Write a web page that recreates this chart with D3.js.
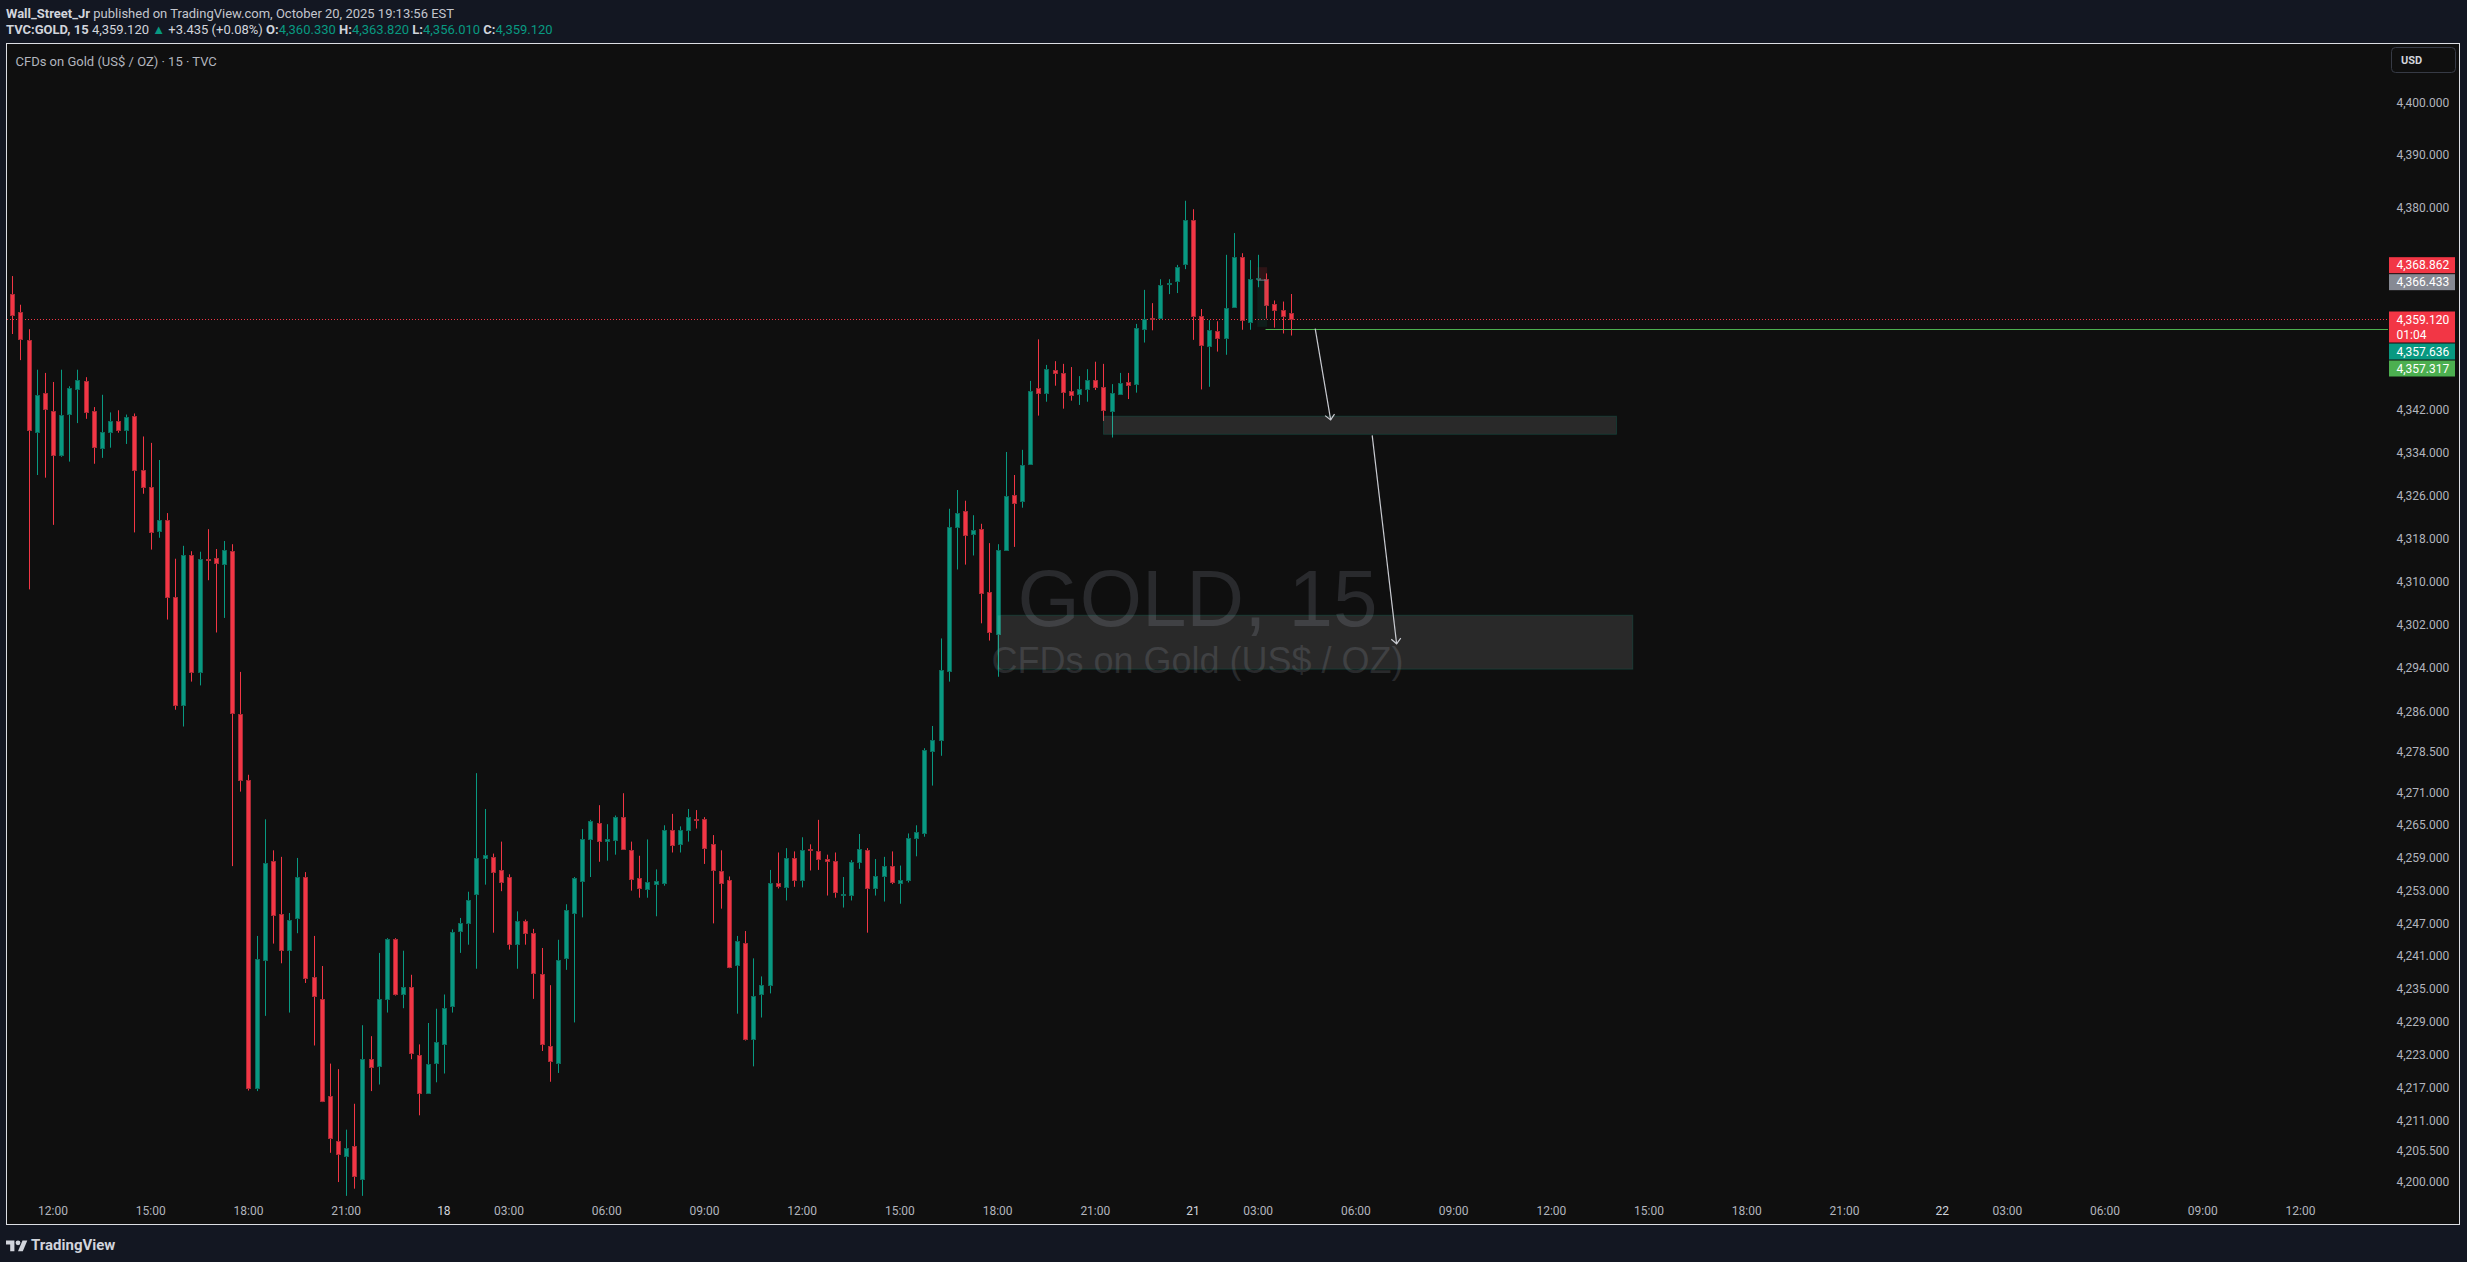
<!DOCTYPE html>
<html>
<head>
<meta charset="utf-8">
<title>GOLD 15</title>
<script src="https://cdn.jsdelivr.net/npm/d3@7"></script>
<style>
  html, body { margin: 0; padding: 0; background: #131722; overflow: hidden; }
  #chart { width: 2467px; height: 1262px; }
  text { font-family: Roboto, "Noto Sans", sans-serif; }
</style>
</head>
<body>
<div id="chart" data-lang="en"></div>
<script>

// 15 min bars, TVC:GOLD (one entry per bar, left to right)
var opens = [
  4363.8, 4360.4, 4355.1, 4337.9, 4345.2, 4341.8, 4333.8, 4341.2, 4345.9, 4347.4,
  4341.8, 4335.0, 4337.9, 4339.9, 4338.3, 4340.9, 4330.8, 4327.6, 4319.4, 4321.5,
  4307.1, 4287.1, 4315.0, 4293.2, 4314.2, 4314.4, 4313.3, 4315.7, 4285.6, 4273.3,
  4216.9, 4240.4, 4258.5, 4248.8, 4242.3, 4248.0, 4255.5, 4237.2, 4233.2, 4215.5,
  4207.4, 4204.6, 4206.4, 4200.5, 4222.3, 4221.0, 4233.2, 4244.1, 4234.0, 4235.3,
  4222.9, 4216.1, 4221.4, 4225.1, 4231.8, 4245.5, 4247.0, 4252.4, 4259.0, 4259.2,
  4256.8, 4255.5, 4243.3, 4247.5, 4245.2, 4237.8, 4224.6, 4221.5, 4240.7, 4248.8,
  4254.7, 4262.4, 4265.5, 4262.0, 4262.2, 4266.5, 4260.4, 4255.3, 4253.2, 4254.2,
  4254.5, 4264.2, 4261.5, 4264.1, 4266.1, 4266.1, 4261.5, 4256.6, 4254.9, 4239.3,
  4243.4, 4225.9, 4234.0, 4235.8, 4254.4, 4253.6, 4258.9, 4254.9, 4260.6, 4260.2,
  4258.8, 4258.4, 4252.1, 4252.1, 4258.2, 4260.4, 4253.4, 4255.6, 4257.5, 4254.4,
  4254.9, 4262.6, 4263.5, 4278.8, 4280.6, 4293.5, 4320.2, 4323.1, 4318.9, 4319.8,
  4308.1, 4300.3, 4315.9, 4326.2, 4325.0, 4332.1, 4346.1, 4345.2, 4349.5, 4349.0,
  4345.6, 4344.9, 4345.9, 4347.6, 4346.3, 4341.8, 4345.0, 4347.3, 4346.9, 4357.4,
  4359.4, 4359.2, 4365.7, 4366.3, 4369.4, 4377.7, 4359.6, 4354.0, 4356.8, 4355.5,
  4361.3, 4370.8, 4358.7, 4366.7, 4366.6, 4362.0, 4360.9, 4360.33
];
var highs = [
  4367.2, 4361.8, 4357.2, 4349.6, 4349.0, 4347.3, 4349.6, 4346.5, 4349.6, 4348.2,
  4342.6, 4344.9, 4341.6, 4342.0, 4341.2, 4341.4, 4337.1, 4335.9, 4332.7, 4322.8,
  4314.3, 4316.7, 4315.7, 4315.6, 4319.8, 4316.1, 4317.6, 4317.0, 4293.3, 4274.3,
  4244.7, 4266.1, 4260.4, 4259.2, 4248.9, 4259.0, 4256.4, 4244.7, 4239.2, 4221.4,
  4220.4, 4209.4, 4214.1, 4228.4, 4226.4, 4241.6, 4244.3, 4244.3, 4242.0, 4237.6,
  4224.9, 4228.8, 4231.4, 4234.0, 4245.9, 4248.0, 4252.8, 4274.6, 4268.0, 4259.8,
  4262.0, 4256.0, 4249.2, 4247.7, 4246.0, 4242.5, 4235.7, 4244.0, 4250.5, 4255.5,
  4264.3, 4266.0, 4268.7, 4265.2, 4266.8, 4270.9, 4262.0, 4259.4, 4262.4, 4256.9,
  4265.0, 4267.1, 4264.8, 4268.0, 4267.8, 4266.5, 4263.2, 4260.4, 4255.6, 4244.7,
  4245.6, 4240.6, 4237.3, 4256.8, 4260.0, 4260.8, 4260.2, 4262.8, 4261.5, 4266.0,
  4259.6, 4260.0, 4255.5, 4258.6, 4263.4, 4260.8, 4258.8, 4259.2, 4260.2, 4257.6,
  4263.5, 4265.0, 4279.2, 4283.3, 4299.5, 4323.6, 4327.1, 4325.1, 4322.4, 4320.8,
  4317.2, 4317.0, 4334.2, 4329.9, 4334.6, 4347.5, 4355.3, 4350.5, 4351.2, 4350.7,
  4350.1, 4348.4, 4349.7, 4351.1, 4350.7, 4346.9, 4349.0, 4349.0, 4358.2, 4364.6,
  4362.1, 4366.6, 4366.6, 4369.3, 4381.4, 4379.8, 4361.0, 4358.9, 4358.7, 4371.2,
  4375.3, 4371.5, 4370.2, 4371.2, 4367.7, 4362.6, 4362.4, 4363.82
];
var lows = [
  4356.3, 4351.4, 4308.6, 4329.9, 4329.4, 4320.6, 4333.3, 4332.4, 4339.6, 4340.4,
  4332.0, 4333.1, 4335.0, 4337.8, 4335.7, 4319.2, 4326.4, 4316.0, 4318.2, 4303.0,
  4286.3, 4283.2, 4291.5, 4290.8, 4310.3, 4300.6, 4303.3, 4257.5, 4271.2, 4216.5,
  4216.4, 4230.1, 4243.3, 4239.7, 4230.7, 4245.2, 4236.1, 4224.7, 4214.4, 4205.2,
  4199.9, 4197.4, 4198.7, 4197.4, 4216.4, 4217.6, 4230.7, 4233.8, 4231.5, 4222.2,
  4212.0, 4215.9, 4218.0, 4219.6, 4230.7, 4241.6, 4243.1, 4238.7, 4254.1, 4245.3,
  4252.9, 4242.2, 4238.7, 4243.1, 4233.2, 4223.7, 4218.1, 4219.7, 4238.5, 4228.9,
  4248.1, 4255.5, 4258.3, 4258.5, 4259.6, 4260.5, 4253.0, 4251.7, 4251.7, 4248.3,
  4253.9, 4260.0, 4260.0, 4262.0, 4264.4, 4257.9, 4247.0, 4249.7, 4238.8, 4230.5,
  4225.6, 4220.9, 4229.8, 4234.2, 4253.4, 4251.2, 4253.7, 4253.6, 4256.7, 4256.8,
  4252.1, 4251.7, 4249.9, 4251.2, 4257.0, 4245.3, 4252.1, 4251.0, 4254.2, 4250.6,
  4254.5, 4259.3, 4262.9, 4272.3, 4277.8, 4291.5, 4312.3, 4313.2, 4314.9, 4302.3,
  4299.1, 4292.4, 4315.8, 4316.5, 4323.8, 4331.9, 4341.0, 4343.6, 4346.6, 4342.3,
  4343.8, 4343.0, 4343.6, 4345.8, 4340.0, 4336.9, 4344.9, 4344.1, 4345.3, 4354.7,
  4357.0, 4359.1, 4363.8, 4364.0, 4368.5, 4355.2, 4345.9, 4346.4, 4353.0, 4352.4,
  4361.2, 4357.1, 4357.1, 4365.1, 4359.2, 4357.5, 4356.4, 4356.01
];
var closes = [
  4359.8, 4355.3, 4338.3, 4344.8, 4342.2, 4333.6, 4341.2, 4346.1, 4347.6, 4341.6,
  4335.0, 4337.9, 4339.9, 4338.3, 4340.7, 4330.8, 4327.6, 4319.2, 4321.5, 4307.1,
  4287.1, 4315.0, 4293.2, 4314.2, 4314.1, 4313.4, 4315.9, 4285.6, 4273.5, 4216.9,
  4240.4, 4258.1, 4248.6, 4242.3, 4247.7, 4255.5, 4237.0, 4233.7, 4214.6, 4207.8,
  4205.0, 4206.0, 4200.9, 4222.2, 4220.8, 4233.2, 4244.1, 4234.0, 4235.3, 4223.2,
  4215.9, 4221.4, 4225.3, 4231.6, 4245.4, 4247.0, 4251.2, 4259.0, 4259.5, 4256.5,
  4254.6, 4243.3, 4247.5, 4245.3, 4237.8, 4225.1, 4221.8, 4240.3, 4249.4, 4255.3,
  4262.4, 4265.7, 4262.2, 4262.4, 4266.5, 4260.6, 4255.1, 4253.4, 4254.5, 4254.7,
  4264.2, 4261.5, 4264.1, 4266.5, 4265.9, 4260.8, 4256.8, 4254.4, 4239.0, 4243.7,
  4225.9, 4233.7, 4235.7, 4254.4, 4253.8, 4258.9, 4254.9, 4260.4, 4260.5, 4258.8,
  4258.4, 4252.7, 4252.3, 4258.2, 4260.6, 4253.4, 4255.6, 4257.5, 4254.5, 4254.9,
  4262.6, 4263.7, 4278.8, 4280.8, 4293.6, 4320.2, 4322.9, 4318.7, 4319.6, 4307.9,
  4300.7, 4315.9, 4326.0, 4324.8, 4331.8, 4345.7, 4345.2, 4349.7, 4349.0, 4345.4,
  4344.9, 4345.9, 4347.6, 4346.3, 4342.0, 4345.2, 4347.1, 4346.7, 4357.4, 4359.2,
  4359.3, 4365.5, 4365.9, 4368.9, 4377.7, 4359.6, 4354.2, 4357.0, 4355.5, 4361.1,
  4370.8, 4358.9, 4366.7, 4366.9, 4361.7, 4360.9, 4359.8, 4359.12
];

// time scale labels, given as bar numbers
var timeTickBars   = [5, 17, 29, 41, 53, 61, 73, 85, 97, 109, 121, 133, 145, 153, 165, 177, 189, 201, 213, 225, 237, 245, 257, 269, 281];
var timeTickLabels = ['12:00', '15:00', '18:00', '21:00', '18', '03:00', '06:00', '09:00', '12:00', '15:00', '18:00', '21:00',
                      '21', '03:00', '06:00', '09:00', '12:00', '15:00', '18:00', '21:00', '22', '03:00', '06:00', '09:00', '12:00'];

var priceTicks = [4400, 4390, 4380, 4370, 4360, 4350, 4342, 4334, 4326, 4318, 4310, 4302, 4294, 4286, 4278.5,
                  4271, 4265, 4259, 4253, 4247, 4241, 4235, 4229, 4223, 4217, 4211, 4205.5, 4200];

// labels on the price scale
var markPrices = [4368.862, 4366.433, 4359.120, 4357.636, 4357.317];
var markKinds  = ['stop', 'entry', 'last', 'target', 'ray'];
var countdown  = '01:04';

// drawings
var zoneFromBar  = [134, 121];
var zoneToBar    = [197, 199];
var zoneTop      = [4340.9, 4303.8];
var zoneBottom   = [4337.5, 4293.8];

var arrowFromBar   = [160.0, 167.0];
var arrowFromPrice = [4357.3, 4337.3];
var arrowToBar     = [161.9, 170.0];
var arrowToPrice   = [4340.2, 4298.5];

var rayBar = 153.9;
var positionBars = [152.9, 154.1];

var CandleChart = function( _id ) {

  var that = this;

  that.id = _id;
  that.width = 2467;
  that.height = 1262;

  that.frame = {left: 6.5, top: 43.5, right: 2459.5, bottom: 1224.5};
  that.plot  = {left: 7, top: 44, right: 2388, bottom: 1198};

  that.upColor = '#089981';
  that.downColor = '#f23645';
  that.fmt = d3.format(',.3f');

  that.init = function() {

    that.bars = opens.map(function(o, i) {
      return {i: i, o: o, h: highs[i], l: lows[i], c: closes[i]};
    });

    that.x = d3.scaleLinear()
      .domain([0, 281])
      .range([12.3, 2300.5]);

    that.y = d3.scaleLog()
      .domain([4200, 4400])
      .range([1181.5, 102.5]);

    that.svg = d3.select('#'+that.id).append('svg')
      .attr('width', that.width)
      .attr('height', that.height);

    that.svg.append('rect')
      .attr('width', that.width)
      .attr('height', that.height)
      .attr('fill', '#131722');

    that.svg.append('rect')
      .attr('x', that.frame.left)
      .attr('y', that.frame.top)
      .attr('width', that.frame.right - that.frame.left)
      .attr('height', that.frame.bottom - that.frame.top)
      .attr('fill', '#0f0f0f')
      .attr('stroke', '#dcdee3')
      .attr('stroke-width', 1);

    that.svg.append('clipPath')
      .attr('id', 'plot-clip')
    .append('rect')
      .attr('x', that.plot.left)
      .attr('y', that.plot.top)
      .attr('width', that.plot.right - that.plot.left)
      .attr('height', that.plot.bottom - that.plot.top);

    that.drawHeader();

    that.g = that.svg.append('g').attr('clip-path', 'url(#plot-clip)');

    that.drawWatermark();
    that.drawLastLine();
    that.drawCandles();
    that.drawDrawings();
    that.drawTimeAxis();
    that.drawPriceAxis();
    that.drawFooter();

    return that;
  };

  that.drawHeader = function() {

    var t1 = that.svg.append('text')
      .attr('x', 6).attr('y', 13.5).attr('dy', '0.35em')
      .style('font-size', '13px').attr('fill', '#d1d4dc');
    t1.append('tspan').attr('font-weight', 'bold').text('Wall_Street_Jr');
    t1.append('tspan').attr('fill', '#c3c6ce').text(' published on TradingView.com, October 20, 2025 19:13:56 EST');

    var t2 = that.svg.append('text')
      .attr('x', 6).attr('y', 29.5).attr('dy', '0.35em')
      .style('font-size', '13px').attr('fill', '#d1d4dc');
    t2.append('tspan').attr('font-weight', 'bold').text('TVC:GOLD, 15');
    t2.append('tspan').text('  4,359.120');
    t2.append('tspan').attr('fill', that.upColor).text(' \u25B2');
    t2.append('tspan').text(' +3.435 (+0.08%)');
    [['O:', 4360.330], ['H:', 4363.820], ['L:', 4356.010], ['C:', 4359.120]].forEach(function(d) {
      t2.append('tspan').attr('font-weight', 'bold').text(' ' + d[0]);
      t2.append('tspan').attr('fill', that.upColor).text(that.fmt(d[1]));
    });

    that.svg.append('text')
      .attr('x', 15.5).attr('y', 61).attr('dy', '0.35em')
      .style('font-size', '13px').attr('fill', '#b2b5be')
      .text('CFDs on Gold (US$ / OZ) \u00B7 15 \u00B7 TVC');
  };

  that.drawWatermark = function() {

    var cx = (that.plot.left + that.plot.right) / 2;

    that.g.append('text')
      .attr('x', cx).attr('y', 626)
      .attr('text-anchor', 'middle')
      .style('font-family', '"Liberation Sans", Arial, sans-serif')
      .style('font-size', '80px')
      .attr('fill', 'rgba(120,123,134,0.25)')
      .text('GOLD, 15');

    that.g.append('text')
      .attr('x', cx).attr('y', 673)
      .attr('text-anchor', 'middle')
      .style('font-family', '"Liberation Sans", Arial, sans-serif')
      .style('font-size', '36px')
      .attr('fill', 'rgba(120,123,134,0.25)')
      .text('CFDs on Gold (US$ / OZ)');
  };

  that.drawLastLine = function() {

    var ly = Math.round(that.y(closes[closes.length-1])) + 0.5;

    that.g.append('line')
      .attr('class', 'last-line')
      .attr('x1', that.plot.left).attr('x2', that.plot.right)
      .attr('y1', ly).attr('y2', ly)
      .attr('stroke', that.downColor)
      .attr('stroke-width', 1)
      .attr('stroke-dasharray', '1,2');
  };

  that.drawCandles = function() {

    var colorOf = function(d) { return d.c >= d.o ? that.upColor : that.downColor; };
    var edgeOf  = function(d) { return d.c >= d.o ? '#0b6b5c' : '#a82a35'; };
    var cx = function(d) { return Math.round(that.x(d.i)); };

    that.g.selectAll('.wick')
      .data(that.bars)
    .enter().append('line')
      .attr('class', 'wick')
      .attr('x1', function(d) { return cx(d) + 0.5; })
      .attr('x2', function(d) { return cx(d) + 0.5; })
      .attr('y1', function(d) { return that.y(d.h); })
      .attr('y2', function(d) { return that.y(d.l); })
      .attr('stroke', colorOf)
      .attr('stroke-width', 1);

    that.g.selectAll('.body')
      .data(that.bars)
    .enter().append('rect')
      .attr('class', 'body')
      .attr('x', function(d) { return cx(d) - 1.5; })
      .attr('y', function(d) { return Math.round(that.y(Math.max(d.o, d.c))) + 0.5; })
      .attr('width', 4)
      .attr('height', function(d) {
        return Math.max(1, Math.round(that.y(Math.min(d.o, d.c)) - that.y(Math.max(d.o, d.c))));
      })
      .attr('fill', colorOf)
      .attr('stroke', edgeOf)
      .attr('stroke-width', 1);
  };

  that.drawDrawings = function() {

    // short position tool (tiny)
    var px0 = that.x(positionBars[0]), px1 = that.x(positionBars[1]);
    that.g.append('rect')
      .attr('x', px0).attr('width', px1 - px0)
      .attr('y', that.y(markPrices[0]))
      .attr('height', that.y(markPrices[1]) - that.y(markPrices[0]))
      .attr('fill', 'rgba(242,54,69,0.14)');
    that.g.append('rect')
      .attr('x', px0).attr('width', px1 - px0)
      .attr('y', that.y(markPrices[1]))
      .attr('height', that.y(markPrices[3]) - that.y(markPrices[1]))
      .attr('fill', 'rgba(8,153,129,0.1)');
    that.g.append('line')
      .attr('x1', px0).attr('x2', px1)
      .attr('y1', that.y(markPrices[1])).attr('y2', that.y(markPrices[1]))
      .attr('stroke', '#787b86');

    // zones
    that.g.selectAll('.zone')
      .data(zoneFromBar)
    .enter().append('rect')
      .attr('class', 'zone')
      .attr('x', function(d) { return that.x(d); })
      .attr('y', function(d, i) { return that.y(zoneTop[i]); })
      .attr('width', function(d, i) { return that.x(zoneToBar[i]) - that.x(d); })
      .attr('height', function(d, i) { return that.y(zoneBottom[i]) - that.y(zoneTop[i]); })
      .attr('fill', 'rgba(255,255,255,0.11)')
      .attr('stroke', 'rgba(8,153,129,0.22)')
      .attr('stroke-width', 1);

    // horizontal ray
    var ry = Math.round(that.y(markPrices[4])) + 0.5;
    that.g.append('line')
      .attr('x1', that.x(rayBar)).attr('x2', that.plot.right)
      .attr('y1', ry).attr('y2', ry)
      .attr('stroke', '#4caf50')
      .attr('stroke-width', 1);

    // arrows
    arrowFromBar.forEach(function(b, i) {
      var x1 = that.x(b), y1 = that.y(arrowFromPrice[i]);
      var x2 = that.x(arrowToBar[i]), y2 = that.y(arrowToPrice[i]);
      var a = Math.atan2(y2 - y1, x2 - x1);
      var len = 7, spread = 0.75;

      that.g.append('line')
        .attr('x1', x1).attr('y1', y1)
        .attr('x2', x2).attr('y2', y2)
        .attr('stroke', '#c9cbd1')
        .attr('stroke-width', 1.2);

      that.g.append('path')
        .attr('d', 'M' + (x2 - len*Math.cos(a - spread)) + ',' + (y2 - len*Math.sin(a - spread)) +
                   'L' + x2 + ',' + y2 +
                   'L' + (x2 - len*Math.cos(a + spread)) + ',' + (y2 - len*Math.sin(a + spread)))
        .attr('fill', 'none')
        .attr('stroke', '#c9cbd1')
        .attr('stroke-width', 1.2);
    });
  };

  that.drawTimeAxis = function() {

    that.svg.selectAll('.time-label')
      .data(timeTickBars)
    .enter().append('text')
      .attr('class', 'time-label')
      .attr('x', function(d) { return that.x(d); })
      .attr('y', 1210.5)
      .attr('dy', '0.35em')
      .attr('text-anchor', 'middle')
      .style('font-size', '12px')
      .attr('fill', function(d, i) { return timeTickLabels[i].length < 3 ? '#d1d4dc' : '#b2b5be'; })
      .text(function(d, i) { return timeTickLabels[i]; });
  };

  that.drawPriceAxis = function() {

    var axisX = 2396.5;

    // price labels, stacked so they do not overlap
    var colors = {stop: '#f23645', entry: '#868993', last: '#f23645', target: '#089981', ray: '#4caf50'};
    var marks = markPrices.map(function(p, i) {
      var h = markKinds[i] === 'last' ? 31 : 16;
      var top = markKinds[i] === 'last' ? that.y(p) - 7.5 : that.y(p) - h/2;
      return {p: p, kind: markKinds[i], h: h, top: top};
    });
    var lastIdx = markKinds.indexOf('last');
    // above the last price: split overlaps
    for (var k = 0; k < 10; k++) {
      for (var i = 0; i < lastIdx - 1; i++) {
        var ov = marks[i].top + marks[i].h + 1 - marks[i+1].top;
        if (ov > 0) { marks[i].top -= ov/2; marks[i+1].top += ov/2; }
      }
    }
    // below the last price: push down
    for (var j = lastIdx + 1; j < marks.length; j++) {
      var minTop = marks[j-1].top + marks[j-1].h + 1;
      if (marks[j].top < minTop) marks[j].top = minTop;
    }

    // scale labels hidden under a price label are skipped
    var visibleTicks = priceTicks.filter(function(p) {
      var ty = that.y(p);
      return !marks.some(function(m) { return ty + 7 > m.top && ty - 7 < m.top + m.h; });
    });

    that.svg.selectAll('.price-label')
      .data(visibleTicks)
    .enter().append('text')
      .attr('class', 'price-label')
      .attr('x', axisX)
      .attr('y', function(d) { return that.y(d); })
      .attr('dy', '0.35em')
      .style('font-size', '12px')
      .attr('fill', '#b2b5be')
      .text(function(d) { return that.fmt(d); });

    // USD button
    that.svg.append('rect')
      .attr('x', 2391.5).attr('y', 47.5)
      .attr('width', 64).attr('height', 25)
      .attr('rx', 4)
      .attr('fill', '#0f0f0f')
      .attr('stroke', '#363a45');
    that.svg.append('text')
      .attr('x', 2401).attr('y', 60).attr('dy', '0.35em')
      .style('font-size', '11px').attr('font-weight', 'bold')
      .attr('fill', '#d1d4dc')
      .text('USD');

    var boxes = that.svg.selectAll('.mark')
      .data(marks)
    .enter().append('g')
      .attr('class', 'mark')
      .attr('transform', function(d) { return 'translate(2389,' + d.top + ')'; });

    boxes.append('rect')
      .attr('width', 66)
      .attr('height', function(d) { return d.h; })
      .attr('fill', function(d) { return colors[d.kind]; });

    boxes.append('text')
      .attr('x', 7.5).attr('y', 8).attr('dy', '0.35em')
      .style('font-size', '12px')
      .attr('fill', '#ffffff')
      .text(function(d) { return that.fmt(d.p); });

    boxes.filter(function(d) { return d.kind === 'last'; })
      .append('text')
      .attr('x', 7.5).attr('y', 23).attr('dy', '0.35em')
      .style('font-size', '12px')
      .attr('fill', '#ffffff')
      .text(countdown);
  };

  that.drawFooter = function() {

    var logo = that.svg.append('g')
      .attr('transform', 'translate(6,1238) scale(0.6)')
      .attr('fill', '#d1d4dc');
    logo.append('path').attr('d', 'M14 22H7V11H0V4h14v18z');
    logo.append('circle').attr('cx', 20).attr('cy', 8).attr('r', 4);
    logo.append('path').attr('d', 'M28 22h-8l7.5-18h8L28 22z');

    that.svg.append('text')
      .attr('x', 31).attr('y', 1244.5).attr('dy', '0.35em')
      .style('font-size', '15px').attr('font-weight', 'bold')
      .attr('fill', '#d1d4dc')
      .text('TradingView');
  };

  return that;
};

var chart = new CandleChart('chart');
chart.init();

</script>
</body>
</html>
